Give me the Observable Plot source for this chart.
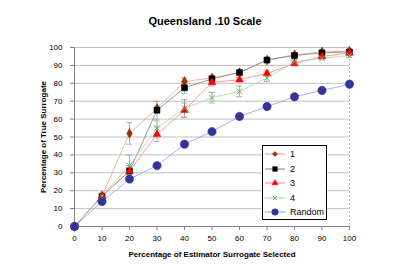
<!DOCTYPE html>
<html><head><meta charset="utf-8">
<script src="https://cdn.jsdelivr.net/npm/d3@7"></script>
<script src="https://cdn.jsdelivr.net/npm/@observablehq/plot@0.6"></script>
<style>
body{margin:0;background:#fff;}
#wrap{position:relative;width:410px;height:279px;font-family:"Liberation Sans",Arial,sans-serif;}
#wrap svg [aria-label="y-axis label"] text, #wrap svg [aria-label="x-axis label"] text{font-weight:bold;}
#legend{position:absolute;left:262px;top:145px;width:63px;height:73px;border:1px solid #000;background:#fff;font-size:9px;}
#legend .row{position:absolute;left:0;height:14px;display:flex;align-items:center;}
#legend .row span{margin-left:3px;}
</style></head><body>
<div id="wrap"></div>
<script>
const title = "Queensland .10 Scale";
const xLabel = "Percentage of Estimator Surrogate Selected";
const yLabel = "Percentage of True Surrogate";
const xTicks = [0,10,20,30,40,50,60,70,80,90,100];
const yTicks = [0,10,20,30,40,50,60,70,80,90,100];
const pct = [0,10,20,30,40,50,60,70,80,90,100];
const s1 = [0,17,52,66,81,83,86,93,96,97.5,98];
const s2 = [0,17,31,65,77.5,82.5,86,93,95.5,97,97.5];
const s3 = [0,17,31,51.5,65,80.5,82,85.5,91,95,97];
const s4 = [0,17,34,55,66,72,75.5,83,92,94,95.5];
const rnd = [0,14,26.5,34,46,53,61.5,67,72.5,76,79.5];
const e1 = [0,0,6,0,2,1,1,1,1,1,1];
const e2 = [0,0,3,5,3,1,1,1,1,1,1];
const e3 = [0,0,2,4,4,2,1,1.5,1,1,1];
const e4 = [0,0,6,4,5,3,3,2,1,1,1];
const seriesNames = ["1","2","3","4","Random"];

const series = [
  {name:"1", vals:s1, err:e1, line:"#e8a080", fill:"#993300", stroke:"#993300", symbol:"diamond", r:3},
  {name:"2", vals:s2, err:e2, line:"#808080", fill:"#000000", stroke:"#000000", symbol:"square", r:3.4},
  {name:"3", vals:s3, err:e3, line:"#ff8080", fill:"#ff0000", stroke:"#ff0000", symbol:"triangle", r:2.9},
  {name:"4", vals:s4, err:e4, line:"#99dd99", fill:"none", stroke:"#66bb66", symbol:"times", r:2.6},
  {name:"Random", vals:rnd, err:null, line:"#9999ee", fill:"#333399", stroke:"#333399", symbol:"circle", r:4.2}
];

const marks = [
  Plot.gridY(yTicks, {stroke:"#c0c0c0", strokeOpacity:1}),
  Plot.ruleX([100], {stroke:"#c0c0c0", strokeDasharray:"2,2"}),
  Plot.ruleX([0], {stroke:"#808080"}),
  Plot.ruleY([0], {stroke:"#808080"}),
  Plot.axisX({ticks:xTicks, tickSize:4, tickPadding:5, stroke:"#808080", label:xLabel, labelAnchor:"center", labelArrow:"none", labelOffset:30, fontSize:8}),
  Plot.axisY({ticks:yTicks, tickSize:4, tickPadding:8, stroke:"#808080", label:yLabel, labelAnchor:"center", labelArrow:"none", labelOffset:34, fontSize:8}),
  Plot.text([title], {frameAnchor:"top", dy:-30, dx:-7, fontWeight:"bold", fontSize:11})
];
for (const s of series) {
  const data = pct.map((p,i)=>({x:p, y:s.vals[i], e:s.err ? s.err[i] : 0}));
  marks.push(Plot.line(data, {x:"x", y:"y", stroke:s.line, strokeWidth:0.8}));
  if (s.err) {
    const eb = data.filter(d=>d.e>0);
    marks.push(Plot.ruleX(eb, {x:"x", y1:d=>d.y-d.e, y2:d=>d.y+d.e, stroke:"#999", strokeWidth:0.8}));
    marks.push(Plot.ruleY(eb, {y:d=>d.y-d.e, x1:d=>d.x-1.1, x2:d=>d.x+1.1, stroke:"#999", strokeWidth:0.8}));
    marks.push(Plot.ruleY(eb, {y:d=>d.y+d.e, x1:d=>d.x-1.1, x2:d=>d.x+1.1, stroke:"#999", strokeWidth:0.8}));
  }
}
for (const s of series) {
  const data = pct.map((p,i)=>({x:p, y:s.vals[i]}));
  marks.push(Plot.dot(data, {x:"x", y:"y", symbol:()=>s.symbol, r:s.r, fill:s.fill, stroke:s.stroke, strokeWidth: s.symbol==="times"?1:0.5}));
}

const chart = Plot.plot({
  width:410, height:279,
  marginLeft:74, marginRight:61, marginTop:47, marginBottom:53,
  style:{fontFamily:"Liberation Sans, Arial, sans-serif", fontSize:"8px", background:"#fff", overflow:"visible"},
  x:{type:"linear", domain:[0,100]},
  y:{type:"linear", domain:[0,100]},
  symbol:{type:"identity"},
  marks
});
document.getElementById("wrap").appendChild(chart);

// legend
const leg = document.createElement("div");
leg.id = "legend";
const symMap = {diamond:d3.symbolDiamond2, square:d3.symbolSquare, triangle:d3.symbolTriangle, times:d3.symbolTimes, circle:d3.symbolCircle};
series.forEach((s,i)=>{
  const row = document.createElement("div");
  row.className = "row";
  row.style.top = (1 + i*14.5) + "px";
  const sw = d3.create("svg").attr("width",24).attr("height",12);
  sw.append("line").attr("x1",2).attr("x2",22).attr("y1",6).attr("y2",6).attr("stroke",s.line);
  sw.append("path").attr("transform","translate(12,6)")
    .attr("d", d3.symbol(symMap[s.symbol], Math.PI*s.r*s.r*0.6)())
    .attr("fill", s.fill).attr("stroke", s.stroke).attr("stroke-width", s.symbol==="times"?1:0.5);
  row.appendChild(sw.node());
  const t = document.createElement("span");
  t.textContent = seriesNames[i];
  row.appendChild(t);
  leg.appendChild(row);
});
document.getElementById("wrap").appendChild(leg);
</script>
</body></html>
